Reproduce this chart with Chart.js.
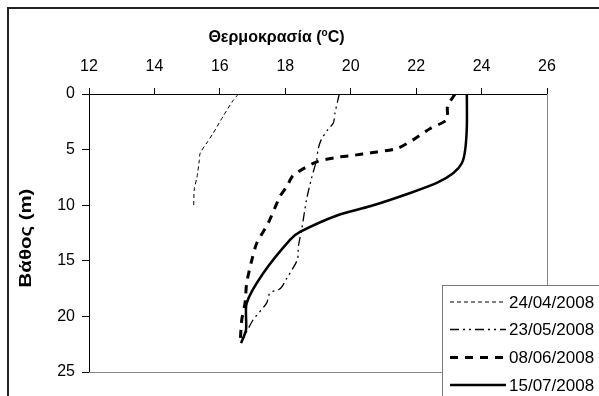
<!DOCTYPE html>
<html>
<head>
<meta charset="utf-8">
<script src="https://cdn.jsdelivr.net/npm/chart.js@4.4.1/dist/chart.umd.min.js"></script>
<style>
  body { margin: 0; background: #fff; }
  canvas { display: block; }
</style>
</head>
<body>
<canvas id="profileChart" width="599" height="396"></canvas>
<script>
// Κατακόρυφα προφίλ θερμοκρασίας
const dates = ['24/04/2008', '23/05/2008', '08/06/2008', '15/07/2008'];

const temp1 = [16.57, 16.4, 16.1, 15.8, 15.6, 15.4, 15.37, 15.3, 15.22, 15.2];
const depth1 = [0, 0.6, 2, 3.5, 4.4, 5.3, 6, 7.5, 8.5, 10];

const temp2 = [19.65, 19.52, 19.47, 19.3, 19.1, 19.0, 18.96, 18.8, 18.65, 18.5, 18.4, 18.37, 18.04, 17.85, 17.53, 17.43, 17.02, 16.8, 16.65];
const depth2 = [0, 1.7, 2.6, 3.2, 4.1, 5.0, 5.9, 7.6, 9.5, 12.2, 13.7, 14.9, 16.6, 17.5, 17.9, 18.8, 20.3, 21.5, 22.4];

const temp3 = [23.19, 22.96, 22.94, 22.43, 21.92, 21.41, 20.59, 20.13, 19.57, 18.96, 18.25, 18.05, 17.84, 17.48, 17.13, 16.98, 16.82, 16.77, 16.67, 16.62];
const depth3 = [0, 1.1, 2.3, 3.1, 4.1, 4.9, 5.3, 5.5, 5.7, 6.1, 7.3, 8.3, 9.2, 11.6, 13.4, 14.9, 17, 18.8, 20.3, 22.4];

const temp4 = [23.55, 23.55, 23.5, 23.4, 23.14, 22.63, 21.82, 20.59, 19.6, 18.45, 18.15, 17.33, 16.82, 16.8, 16.65];
const depth4 = [0, 2.9, 5.0, 6.2, 7.1, 8.0, 8.9, 10.1, 10.9, 12.4, 13.1, 16.1, 18.8, 21.2, 22.4];

const xTicks = [12, 14, 16, 18, 20, 22, 24, 26];
const yTicks = [0, 5, 10, 15, 20, 25];

const FONT = 'Arial, "Liberation Sans", sans-serif';

function pts(t, d) {
    return t.map((v, i) => ({ x: v, y: d[i] }));
}

// Τίτλοι αξόνων, περίγραμμα και υπόμνημα
const decorations = {
    id: 'decorations',
    beforeDatasetsDraw(chart) {
        const { ctx, chartArea: a } = chart;
        ctx.save();
        ctx.strokeStyle = '#888';
        ctx.lineWidth = 1;
        ctx.beginPath();
        ctx.moveTo(Math.round(a.right) + 0.5, a.top);
        ctx.lineTo(Math.round(a.right) + 0.5, a.bottom + 0.5);
        ctx.lineTo(a.left, Math.round(a.bottom) + 0.5);
        ctx.stroke();
        ctx.restore();
    },
    afterDraw(chart) {
        const ctx = chart.ctx;
        ctx.save();
        // εξωτερικό πλαίσιο
        ctx.strokeStyle = '#222';
        ctx.lineWidth = 2;
        ctx.strokeRect(8, 8, 800, 600);

        // τίτλος x
        ctx.fillStyle = '#000';
        ctx.textBaseline = 'middle';
        const p1 = 'Θερμοκρασία (', p3 = 'C)';
        ctx.font = 'bold 16px ' + FONT;
        const w1 = ctx.measureText(p1).width, w3 = ctx.measureText(p3).width;
        ctx.font = 'bold 10px ' + FONT;
        const w2 = ctx.measureText('o').width;
        let x = 276.5 - (w1 + w2 + w3) / 2;
        ctx.font = 'bold 16px ' + FONT;
        ctx.textAlign = 'left';
        ctx.fillText(p1, x, 38);
        ctx.font = 'bold 10px ' + FONT;
        ctx.fillText('o', x + w1, 33);
        ctx.font = 'bold 16px ' + FONT;
        ctx.fillText(p3, x + w1 + w2, 38);

        // τίτλος y
        ctx.save();
        ctx.translate(26, 238);
        ctx.rotate(-Math.PI / 2);
        ctx.scale(1.2, 1);
        ctx.font = 'bold 17px ' + FONT;
        ctx.textAlign = 'center';
        ctx.fillText('Βάθος (m)', 0, 0);
        ctx.restore();

        // υπόμνημα
        ctx.fillStyle = '#fff';
        ctx.fillRect(443, 286, 300, 200);
        ctx.strokeStyle = '#777';
        ctx.lineWidth = 1;
        ctx.strokeRect(442.5, 285.5, 300, 200);
        const rows = [302, 329.5, 357.5, 385];
        chart.data.datasets.forEach((ds, i) => {
            ctx.save();
            ctx.strokeStyle = '#000';
            ctx.lineWidth = ds.borderWidth;
            ctx.setLineDash(ds.borderDash || []);
            ctx.beginPath();
            ctx.moveTo(450, rows[i]);
            ctx.lineTo(506, rows[i]);
            ctx.stroke();
            ctx.restore();
            ctx.fillStyle = '#000';
            ctx.font = '17px ' + FONT;
            ctx.textAlign = 'left';
            ctx.textBaseline = 'middle';
            ctx.fillText(ds.label, 509, rows[i] + 1);
        });
        ctx.restore();
    }
};

const ctx = document.getElementById('profileChart').getContext('2d');
const profileChart = new Chart(ctx, {
    type: 'scatter',
    data: {
        datasets: [
            { label: dates[0], data: pts(temp1, depth1), borderColor: '#000', borderWidth: 1, borderDash: [4, 3] },
            { label: dates[1], data: pts(temp2, depth2), borderColor: '#000', borderWidth: 1.3, borderDash: [9, 4, 2, 4, 2, 4] },
            { label: dates[2], data: pts(temp3, depth3), borderColor: '#000', borderWidth: 3, borderDash: [8, 7] },
            { label: dates[3], data: pts(temp4, depth4), borderColor: '#000', borderWidth: 2.5 }
        ]
    },
    options: {
        responsive: false,
        animation: false,
        showLine: true,
        elements: {
            point: { radius: 0, hoverRadius: 0 },
            line: { tension: 0.25, fill: false }
        },
        layout: { padding: { left: 0, right: 52, top: 0, bottom: 24 } },
        plugins: {
            legend: { display: false },
            tooltip: { enabled: false }
        },
        scales: {
            x: {
                type: 'linear',
                position: 'top',
                min: 12,
                max: 26,
                afterBuildTicks: s => { s.ticks = xTicks.map(v => ({ value: v })); },
                afterFit: s => { s.height = 94; },
                ticks: { color: '#000', font: { size: 16, family: FONT }, padding: 12 },
                grid: { drawOnChartArea: false, drawTicks: true, tickLength: 6, color: '#000' },
                border: { display: true, color: '#000', width: 1 }
            },
            y: {
                type: 'linear',
                reverse: true,
                min: 0,
                max: 25,
                afterBuildTicks: s => { s.ticks = yTicks.map(v => ({ value: v })); },
                afterFit: s => { s.width = 89; },
                ticks: { color: '#000', font: { size: 16, family: FONT }, padding: 7 },
                grid: { drawOnChartArea: false, drawTicks: true, tickLength: 7, color: '#000' },
                border: { display: true, color: '#000', width: 1 }
            }
        }
    },
    plugins: [decorations]
});
</script>
</body>
</html>
